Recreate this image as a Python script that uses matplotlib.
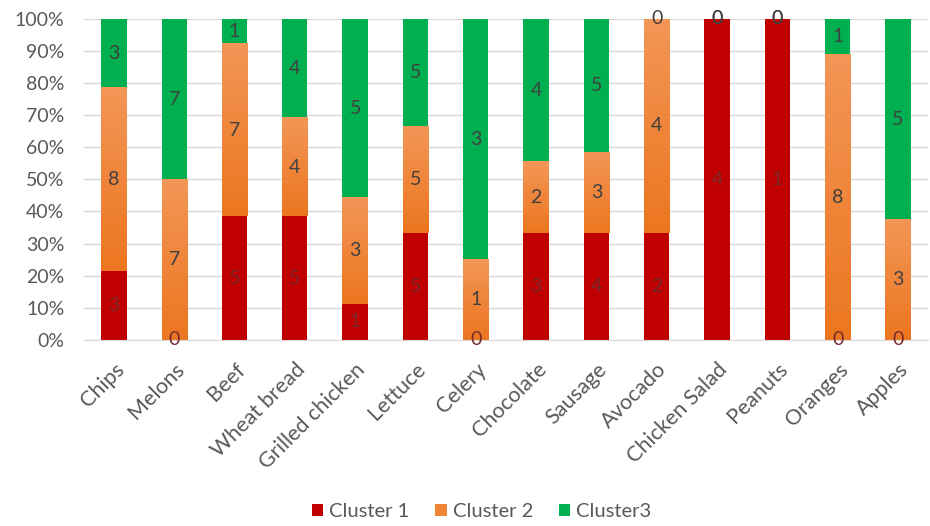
import numpy as np
import matplotlib
matplotlib.use("Agg")
import matplotlib.pyplot as plt
from matplotlib.colors import LinearSegmentedColormap

foods = ["Chips", "Melons", "Beef", "Wheat bread", "Grilled chicken", "Lettuce",
         "Celery", "Chocolate", "Sausage", "Avocado", "Chicken Salad", "Peanuts",
         "Oranges", "Apples"]
cluster1 = [3, 0, 5, 5, 1, 5, 0, 3, 4, 2, 4, 1, 0, 0]
cluster2 = [8, 7, 7, 4, 3, 5, 1, 2, 3, 4, 0, 0, 8, 3]
cluster3 = [3, 7, 1, 4, 5, 5, 3, 4, 5, 0, 0, 0, 1, 5]
names = ["Cluster 1", "Cluster 2", "Cluster3"]
colors = ["#c00000", "#ef8535", "#00b050"]

plt.rcParams['font.family'] = ['Lato', 'DejaVu Sans']
txt = "#595959"
fs = 14

counts = np.array([cluster1, cluster2, cluster3], dtype=float)
share = counts / counts.sum(axis=0) * 100

fig = plt.figure(figsize=(9.3, 5.26), dpi=100)
ax = fig.add_axes([0.09, 0.354, 0.908, 0.61])
x = np.arange(len(foods))
w = 0.42
bottom = np.zeros(len(foods))
orange = LinearSegmentedColormap.from_list("og", ["#ec7620", "#f39656"])
grad = np.linspace(0, 1, 64).reshape(-1, 1)
for k in range(3):
    bars = ax.bar(x, share[k], w, bottom=bottom, color=colors[k], label=names[k], zorder=2)
    if k == 1:
        # orange series has a light-to-dark fade
        for b in bars:
            if b.get_height() > 0:
                ax.imshow(grad, cmap=orange, origin="lower", aspect="auto", zorder=2.5,
                          extent=[b.get_x(), b.get_x() + b.get_width(),
                                  b.get_y(), b.get_y() + b.get_height()])
    for i in range(len(foods)):
        ax.text(x[i], bottom[i] + share[k][i] / 2, "%d" % counts[k][i],
                ha="center", va="center", fontsize=fs,
                color="#7a2a2a" if k == 0 else "#404040", zorder=3)
    bottom += share[k]

ax.set_xlim(-0.5, len(foods) - 0.5)
ax.set_ylim(0, 100)
ax.set_yticks(np.arange(0, 101, 10))
ax.set_yticklabels(["%d%%" % v for v in range(0, 101, 10)], fontsize=fs, color=txt)
ax.set_xticks(x)
ax.set_xticklabels(foods, rotation=45, ha="right", rotation_mode="anchor",
                   fontsize=15.5, color=txt)
ax.grid(axis="y", color="#d9d9d9", lw=1, zorder=0)
for s in ["top", "right", "left"]:
    ax.spines[s].set_visible(False)
ax.spines["bottom"].set_color("#d9d9d9")
ax.tick_params(axis="y", length=0, pad=14)
ax.tick_params(axis="x", length=0, pad=14)

fig.legend(loc="center", bbox_to_anchor=(0.518, 0.027), ncol=3, frameon=False,
           fontsize=14.5, labelcolor=txt, handlelength=0.55, handleheight=0.55,
           handletextpad=0.3, columnspacing=1.3)
fig.savefig("out.png", dpi=100)
